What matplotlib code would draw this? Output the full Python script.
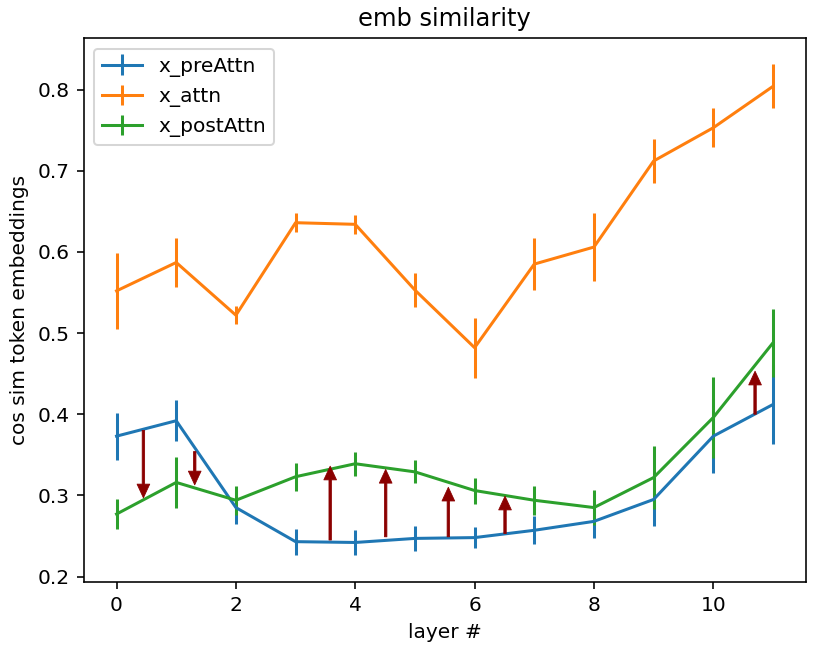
import matplotlib
matplotlib.use("Agg")
import matplotlib.pyplot as plt
import numpy as np

layers = list(range(12))

pre_attn = [0.373, 0.392, 0.285, 0.243, 0.242, 0.247, 0.248, 0.257, 0.268, 0.295, 0.373, 0.412]
pre_attn_err = [0.029, 0.025, 0.020, 0.016, 0.015, 0.015, 0.013, 0.017, 0.020, 0.033, 0.046, 0.049]

attn = [0.552, 0.587, 0.522, 0.636, 0.634, 0.553, 0.482, 0.585, 0.606, 0.712, 0.753, 0.804]
attn_err = [0.047, 0.030, 0.011, 0.012, 0.012, 0.021, 0.037, 0.032, 0.042, 0.027, 0.024, 0.027]

post_attn = [0.277, 0.316, 0.294, 0.323, 0.339, 0.329, 0.306, 0.294, 0.285, 0.322, 0.396, 0.488]
post_attn_err = [0.018, 0.031, 0.018, 0.017, 0.015, 0.014, 0.016, 0.018, 0.022, 0.039, 0.050, 0.042]

# annotation arrows (x position, tail value, head value)
arrow_x = [0.45, 1.31, 3.58, 4.51, 5.56, 6.51, 10.70]
arrow_from = [0.380, 0.354, 0.245, 0.249, 0.249, 0.253, 0.400]
arrow_to = [0.297, 0.313, 0.336, 0.332, 0.310, 0.299, 0.453]

DPI = 145
fig = plt.figure(figsize=(829 / DPI, 652 / DPI), dpi=DPI)
ax = fig.add_subplot(111)
fig.subplots_adjust(left=0.101, right=0.972, bottom=0.107, top=0.941)

ax.errorbar(layers, pre_attn, yerr=pre_attn_err, label="x_preAttn")
ax.errorbar(layers, attn, yerr=attn_err, label="x_attn")
ax.errorbar(layers, post_attn, yerr=post_attn_err, label="x_postAttn")

for x, y0, y1 in zip(arrow_x, arrow_from, arrow_to):
    ax.annotate("", xy=(x, y1), xytext=(x, y0),
                arrowprops=dict(facecolor="darkred", edgecolor="darkred", linewidth=0.4,
                                width=1.2, headwidth=6.3, headlength=6.8, shrink=0))

ax.set_xlim(-0.55, 11.55)
ax.set_ylim(0.193, 0.863)
ax.set_title("emb similarity")
ax.set_xlabel("layer #")
ax.set_ylabel("cos sim token embeddings")
ax.legend(loc="upper left")

fig.savefig("out.png", dpi=DPI)
